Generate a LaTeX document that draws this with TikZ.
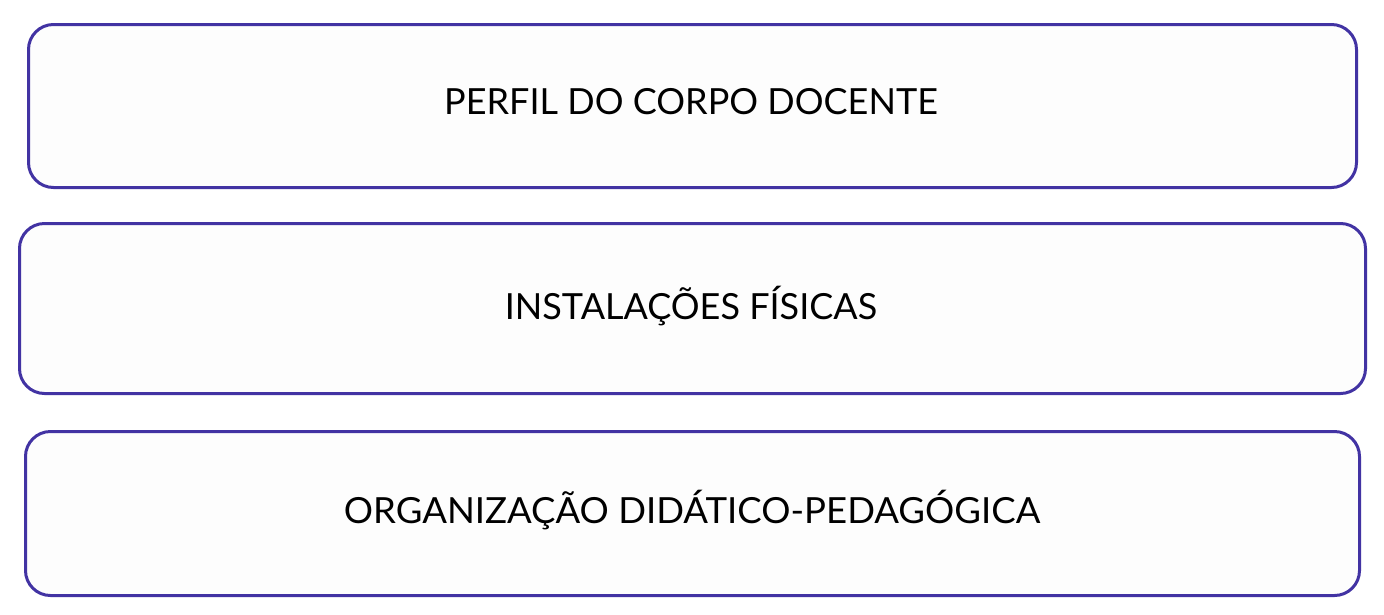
\documentclass[tikz,border=0pt]{standalone}
\usepackage{fontspec}
\setmainfont{Lato}
\definecolor{boxline}{HTML}{4233A3}
\definecolor{boxfill}{HTML}{FDFDFD}
\begin{document}
\begin{tikzpicture}[x=1pt,y=-1pt,
  card/.style={draw=boxline, line width=3pt, fill=boxfill, rounded corners=25pt, inner sep=0pt, anchor=north west},
  lbl/.style={font=\fontsize{36}{40}\selectfont, text=black, inner sep=0pt}]
\useasboundingbox (0,0) rectangle (1384,614);
\node[card, minimum width=1328pt, minimum height=163pt] (b1) at (27,23) {};
\node[card, minimum width=1346pt, minimum height=170pt] (b2) at (18,222) {};
\node[card, minimum width=1334pt, minimum height=164pt] (b3) at (24,430) {};
\node[lbl] (t1) at (691,102) {PERFIL DO CORPO DOCENTE};
\node[lbl] (t2) at (691,306) {INSTALAÇÕES FÍSICAS};
\node[lbl, xscale=1.015] (t3) at (692,510) {ORGANIZAÇÃO DIDÁTICO-PEDAGÓGICA};
\end{tikzpicture}
\end{document}
